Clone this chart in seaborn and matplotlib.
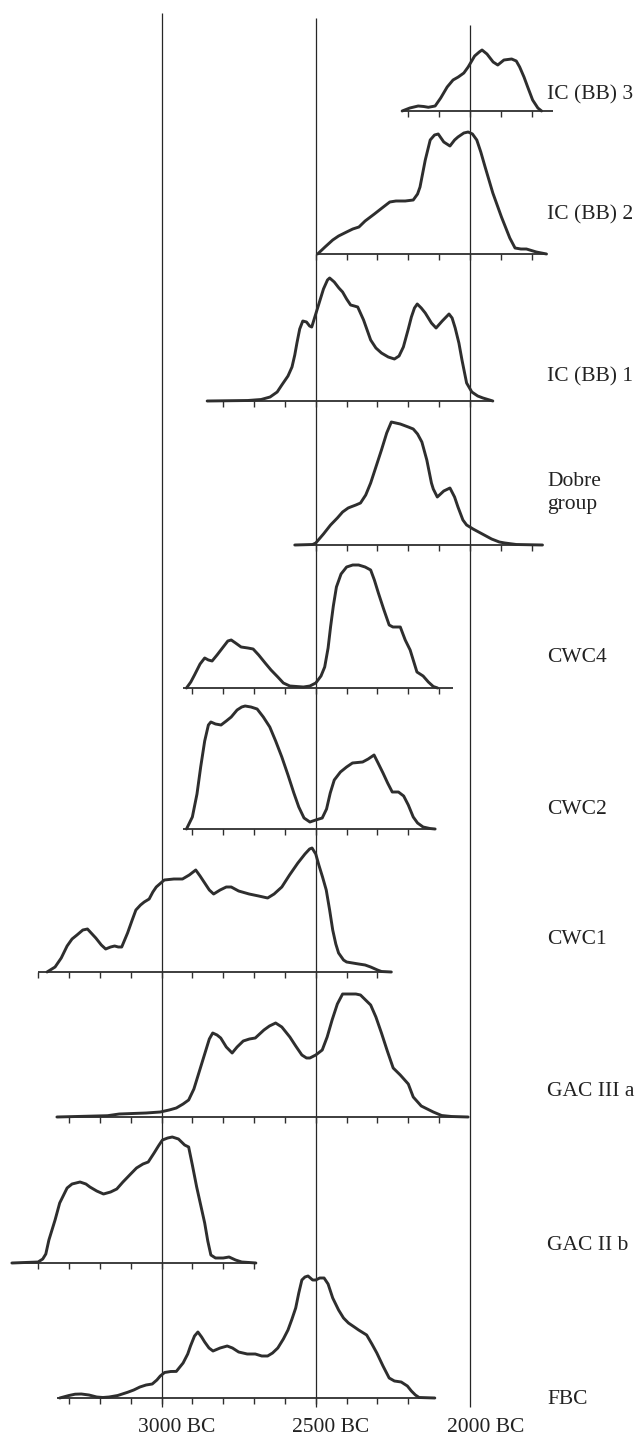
import numpy as np
import pandas as pd
import matplotlib
matplotlib.use("Agg")
import matplotlib.pyplot as plt
import matplotlib.transforms as mtransforms
import seaborn as sns

# ---------------- data (years BC, relative summed probability) ----------------
groups = ["IC (BB) 3", "IC (BB) 2", "IC (BB) 1", "Dobre\ngroup", "CWC4",
          "CWC2", "CWC1", "GAC III a", "GAC II b", "FBC"]

ic3_year = [2220, 2195, 2168, 2150, 2135, 2113, 2095, 2074, 2055, 2038, 2020, 2006, 1985,
            1970, 1961, 1945, 1925, 1910, 1890, 1865, 1850, 1839, 1825, 1813, 1797, 1780, 1768]
ic3_prob = [0, 3, 5, 4.5, 3.7, 5, 13, 24, 31, 34, 38, 44, 55, 59, 61, 57, 49, 46, 51, 52,
            50, 44, 34, 24, 11, 3, 0]

ic2_year = [2494, 2470, 2445, 2426, 2400, 2380, 2360, 2340, 2310, 2281, 2260, 2240, 2210,
            2184, 2170, 2162, 2145, 2129, 2115, 2103, 2085, 2065, 2050, 2039, 2020, 2006,
            1992, 1978, 1965, 1951, 1926, 1898, 1871, 1854, 1835, 1817, 1785, 1752]
ic2_prob = [0, 7, 14, 18, 22, 25, 27, 33, 40, 47, 52, 53, 53, 54, 60, 67, 94, 114, 119,
            120, 112, 108, 114, 117, 121, 122, 120, 114, 102, 87, 61, 37, 16, 6, 5, 5, 2, 0]

ic1_year = [2852, 2720, 2677, 2648, 2625, 2610, 2590, 2577, 2568, 2561, 2552, 2542, 2530,
            2520, 2513, 2505, 2493, 2475, 2462, 2455, 2440, 2425, 2413, 2400, 2387, 2375,
            2364, 2345, 2322, 2305, 2287, 2265, 2245, 2230, 2216, 2200, 2190, 2180, 2171,
            2158, 2145, 2125, 2110, 2090, 2068, 2058, 2048, 2036, 2026, 2011, 1994, 1975,
            1958, 1926]
ic1_prob = [0, 0.5, 1.5, 4, 9, 16, 25, 34, 46, 58, 72, 80, 79, 75, 74, 82, 94, 112, 121,
            123, 119, 113, 109, 102, 96, 95, 94, 81, 61, 53, 48, 44, 42, 45, 54, 72, 84, 93,
            97, 93, 88, 78, 73, 80, 87, 83, 73, 58, 41, 18, 9, 5, 3, 0]

dob_year = [2568, 2510, 2500, 2475, 2452, 2430, 2413, 2395, 2387, 2370, 2355, 2338, 2322,
            2305, 2287, 2270, 2255, 2226, 2200, 2184, 2170, 2156, 2140, 2125, 2119, 2106,
            2085, 2065, 2050, 2039, 2023, 2011, 1990, 1960, 1930, 1905, 1887, 1850, 1765]
dob_prob = [0, 0.5, 2, 11, 20, 27, 33, 37, 38, 40, 42, 50, 62, 78, 95, 112, 123, 121, 118,
            116, 111, 103, 85, 62, 56, 48, 54, 57, 48, 38, 25, 20, 16, 11, 6, 3, 2, 0.5, 0]

cwc4_year = [2919, 2905, 2893, 2875, 2860, 2848, 2836, 2820, 2800, 2785, 2774, 2760, 2742,
             2720, 2703, 2685, 2664, 2645, 2623, 2605, 2584, 2540, 2519, 2500, 2483, 2471,
             2460, 2452, 2443, 2433, 2418, 2400, 2380, 2361, 2340, 2322, 2310, 2297, 2280,
             2262, 2250, 2232, 2226, 2210, 2194, 2172, 2152, 2135, 2119, 2105]
cwc4_prob = [0, 6, 13, 24, 30, 28, 27, 33, 41, 47, 48, 45, 41, 40, 39, 33, 25, 18, 11, 5,
             2, 1, 2, 5, 12, 21, 40, 61, 82, 101, 114, 121, 123, 123, 121, 118, 108, 95, 79,
             63, 61, 61, 61, 48, 38, 16, 12, 6, 1.5, 0]

cwc2_year = [2919, 2900, 2885, 2873, 2860, 2848, 2840, 2825, 2807, 2790, 2774, 2755, 2740,
             2729, 2710, 2690, 2670, 2649, 2630, 2610, 2590, 2571, 2555, 2538, 2519, 2500,
             2479, 2465, 2453, 2440, 2420, 2400, 2381, 2348, 2330, 2311, 2298, 2282, 2267,
             2252, 2232, 2215, 2200, 2184, 2170, 2152, 2130, 2113]
cwc2_prob = [0, 12, 35, 62, 88, 104, 107, 105, 104, 108, 112, 119, 122, 123, 122, 120, 112,
             102, 88, 72, 54, 36, 22, 11, 7, 9, 11, 20, 36, 49, 57, 62, 66, 67, 70, 74, 66,
             56, 46, 37, 37, 33, 24, 12, 6, 2, 0.5, 0]

cwc1_year = [3371, 3345, 3325, 3306, 3290, 3274, 3255, 3240, 3225, 3213, 3195, 3181, 3165,
             3152, 3140, 3129, 3110, 3095, 3083, 3068, 3056, 3040, 3028, 3017, 2991, 2960,
             2932, 2910, 2889, 2875, 2860, 2845, 2831, 2810, 2790, 2774, 2750, 2716, 2685,
             2656, 2635, 2610, 2585, 2558, 2535, 2520, 2512, 2500, 2490, 2478, 2466, 2455,
             2445, 2435, 2426, 2410, 2400, 2361, 2340, 2322, 2300, 2287, 2255]
cwc1_prob = [0, 5, 14, 26, 33, 37, 42, 43, 38, 34, 27, 23, 25, 26, 25, 25, 39, 52, 62, 67,
             70, 73, 80, 85, 92, 93, 93, 97, 102, 96, 89, 82, 78, 82, 85, 85, 81, 78, 76,
             74, 78, 85, 97, 109, 118, 123, 124, 118, 107, 95, 82, 62, 42, 28, 19, 12, 10,
             8, 7, 5, 2, 0.5, 0]

gac3_year = [3339, 3175, 3137, 3050, 3004, 2975, 2952, 2930, 2912, 2895, 2873, 2855, 2845,
             2834, 2820, 2808, 2790, 2771, 2755, 2735, 2715, 2696, 2668, 2650, 2630, 2610,
             2584, 2565, 2545, 2530, 2519, 2500, 2479, 2463, 2447, 2430, 2413, 2390, 2370,
             2355, 2322, 2305, 2287, 2268, 2249, 2226, 2200, 2184, 2158, 2119, 2092, 2060,
             2006]
gac3_prob = [0, 1.3, 3, 4, 5, 7, 9, 13, 17, 28, 50, 68, 78, 84, 82, 79, 70, 64, 70, 76, 78,
             79, 87, 91, 94, 90, 80, 71, 62, 59, 59, 62, 67, 80, 97, 113, 123, 123, 123, 122,
             112, 100, 84, 66, 49, 42, 33, 20, 11, 5, 1.5, 0.5, 0]

gac2_year = [3485, 3400, 3385, 3375, 3365, 3345, 3330, 3306, 3290, 3264, 3245, 3232, 3210,
             3188, 3165, 3145, 3125, 3100, 3081, 3060, 3043, 3024, 3010, 2997, 2980, 2965,
             2945, 2925, 2912, 2900, 2886, 2873, 2860, 2850, 2840, 2825, 2800, 2781, 2760,
             2740, 2716, 2694]
gac2_prob = [0, 1, 4, 9, 23, 43, 60, 75, 79, 81, 79, 76, 72, 69, 71, 74, 81, 89, 95, 99,
             101, 110, 117, 123, 125, 126, 124, 118, 116, 98, 76, 58, 40, 22, 8, 5, 5, 6, 3,
             1, 0.5, 0]

fbc_year = [3330, 3300, 3280, 3260, 3235, 3210, 3190, 3170, 3142, 3110, 3090, 3070, 3050,
            3030, 3015, 3004, 2990, 2970, 2952, 2930, 2915, 2906, 2893, 2882, 2870, 2860,
            2846, 2833, 2810, 2787, 2770, 2750, 2722, 2696, 2675, 2656, 2640, 2623, 2605,
            2590, 2577, 2565, 2555, 2545, 2535, 2525, 2510, 2500, 2487, 2473, 2460, 2445,
            2426, 2410, 2394, 2375, 2361, 2335, 2318, 2302, 2282, 2262, 2245, 2223, 2203,
            2190, 2177, 2165, 2114]
fbc_prob = [0, 2.5, 3.8, 4, 3, 1, 0.5, 1, 2.5, 5.7, 8, 11, 13, 14, 18, 22, 25.5, 26.5,
            26.6, 35, 44, 52, 62, 66, 61, 56, 50, 47, 50, 52, 50, 46, 44, 44, 42, 42, 45, 50,
            59, 68, 79, 90, 105, 118, 121, 122, 118, 118, 120, 120, 114, 100, 88, 80, 75, 71,
            68, 63, 54, 45, 32, 20, 17, 16, 12, 7, 3, 0.5, 0]

series_years = [ic3_year, ic2_year, ic1_year, dob_year, cwc4_year,
                cwc2_year, cwc1_year, gac3_year, gac2_year, fbc_year]
series_probs = [ic3_prob, ic2_prob, ic1_prob, dob_prob, cwc4_prob,
                cwc2_prob, cwc1_prob, gac3_prob, gac2_prob, fbc_prob]

# extent of each panel's own time axis (years BC) and its 100-year ticks
axis_start = [2220, 2500, 2852, 2568, 2929, 2929, 3400, 3339, 3485, 3339]
axis_end = [1732, 1752, 1926, 1765, 2055, 2110, 2255, 2006, 2694, 2114]
tick_first = [2200, 2500, 2800, 2500, 2900, 2900, 3400, 3300, 3400, 3300]
tick_last = [1800, 1800, 2000, 1800, 2100, 2200, 2300, 2100, 2700, 2200]

ref_years = [3000, 2500, 2000]
ref_labels = ["3000 BC", "2500 BC", "2000 BC"]

# ---------------- layout (pixels of the 638 x 1437 canvas) ----------------
W, H = 638, 1437
baseline_px = [111, 254, 401, 545, 688, 829, 972, 1117, 1263, 1398]
label_px = [95, 215, 377, 493, 658, 810, 939, 1092, 1245, 1399]
ref_top = [13, 18, 25]
ref_bottom = 1407
px3000, px_per_year = 161.5, 0.3085


def year_at(px):
    return 3000 - (px - px3000) / px_per_year


sns.set_style("white")
plt.rcParams["font.family"] = ["Liberation Serif", "DejaVu Serif"]

fig = plt.figure(figsize=(W / 100, H / 100), dpi=100)
ax = fig.add_axes([0, 0, 1, 1])
ax.set_xlim(year_at(0), year_at(W))
ax.set_ylim(H, 0)
ax.axis("off")

ink = "#2e2e2e"

# reference verticals
for yr, top in zip(ref_years, ref_top):
    ax.vlines(yr, top, ref_bottom, color="#262626", lw=0.9)

for i, name in enumerate(groups):
    base = baseline_px[i]
    df = pd.DataFrame({"year": series_years[i],
                       "y": base - np.asarray(series_probs[i], dtype=float)})
    sns.lineplot(data=df, x="year", y="y", ax=ax, sort=False, estimator=None,
                 color=ink, lw=2.1, solid_joinstyle="round", solid_capstyle="round")
    ax.hlines(base, axis_start[i], axis_end[i], color=ink, lw=1.3)
    ticks = np.arange(tick_first[i], tick_last[i] - 1, -100)
    ax.vlines(ticks, base, base + 5.5, color=ink, lw=1.0)

trans = mtransforms.blended_transform_factory(ax.transAxes, ax.transData)
for name, ly in zip(groups, label_px):
    ax.text(547 / W, ly, name, transform=trans, ha="left", va="center",
            fontsize=15.5, color="#222222", linespacing=1.35)

for yr, lab in zip(ref_years, ref_labels):
    ax.annotate(lab, xy=(yr, 1427), xytext=(11, 0), textcoords="offset points",
                ha="center", va="center", fontsize=15.5, color="#222222")

if ax.get_legend() is not None:
    ax.get_legend().remove()
fig.savefig("out.png", dpi=100, facecolor="white")
